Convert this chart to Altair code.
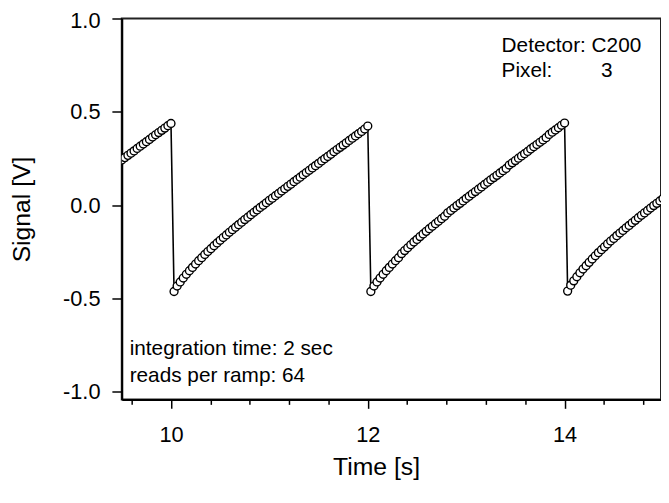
import altair as alt
import pandas as pd

# acquisition settings shown on the chart
reads_per_ramp = 64
integration_time = 2.0
dt = integration_time / reads_per_ramp

# start time of each plotted segment [s]
seg_starts = [9.5, 10.03125, 12.03125, 14.03125]

# signal values [V]
seg0 = [0.242, 0.255, 0.267, 0.279, 0.291, 0.304, 0.316, 0.328, 0.340,
        0.352, 0.365, 0.377, 0.389, 0.401, 0.413, 0.426, 0.438]
ramp1 = [-0.462, -0.433, -0.411, -0.390, -0.370, -0.351, -0.333, -0.315,
         -0.297, -0.281, -0.264, -0.248, -0.233, -0.217, -0.202, -0.188,
         -0.173, -0.159, -0.145, -0.131, -0.118, -0.104, -0.091, -0.077,
         -0.064, -0.051, -0.038, -0.025, -0.012, 0.000, 0.013, 0.026,
         0.038, 0.051, 0.063, 0.076, 0.088, 0.101, 0.113, 0.126,
         0.138, 0.150, 0.163, 0.175, 0.187, 0.200, 0.212, 0.224,
         0.237, 0.249, 0.261, 0.273, 0.286, 0.298, 0.310, 0.322,
         0.334, 0.347, 0.359, 0.371, 0.383, 0.395, 0.408, 0.424]
ramp2 = [-0.462, -0.433, -0.411, -0.390, -0.370, -0.351, -0.333, -0.315,
         -0.297, -0.281, -0.259, -0.243, -0.228, -0.212, -0.197, -0.183,
         -0.168, -0.154, -0.140, -0.126, -0.113, -0.099, -0.086, -0.072,
         -0.059, -0.041, -0.028, -0.015, -0.002, 0.010, 0.023, 0.036,
         0.048, 0.061, 0.073, 0.086, 0.098, 0.111, 0.123, 0.136,
         0.148, 0.160, 0.173, 0.185, 0.197, 0.215, 0.227, 0.239,
         0.252, 0.264, 0.276, 0.288, 0.301, 0.313, 0.325, 0.337,
         0.349, 0.362, 0.379, 0.391, 0.403, 0.415, 0.428, 0.440]
ramp3 = [-0.460, -0.428, -0.405, -0.383, -0.362, -0.342, -0.324, -0.306,
         -0.288, -0.271, -0.254, -0.238, -0.223, -0.207, -0.192, -0.178,
         -0.163, -0.149, -0.135, -0.121, -0.108, -0.094, -0.081, -0.067,
         -0.054, -0.041, -0.028, -0.015, -0.002, 0.010, 0.023, 0.036]
segments = [seg0, ramp1, ramp2, ramp3]

times, values = [], []
for start, vals in zip(seg_starts, segments):
    for i, v in enumerate(vals):
        times.append(start + i * dt)
        values.append(v)
df = pd.DataFrame({"t": times, "v": values})

# annotations
ann_text = ["Detector: C200", "Pixel:", "3", "integration time: 2 sec", "reads per ramp: 64"]
ann_t = [13.36, 13.36, 14.37, 9.58, 9.58]
ann_v = [0.852, 0.716, 0.716, -0.768, -0.913]
ann = pd.DataFrame({"text": ann_text, "t": ann_t, "v": ann_v})

x_tick_values = [9.6, 10, 10.4, 10.8, 11.2, 11.6, 12, 12.4, 12.8, 13.2, 13.6, 14, 14.4, 14.8]
y_tick_values = [-1.0, -0.5, 0.0, 0.5, 1.0]
major_test = "datum.value == 10 || datum.value == 12 || datum.value == 14"

FONT = "Liberation Sans"

x_enc = alt.X(
    "t:Q",
    scale=alt.Scale(domain=[9.5, 14.98], nice=False, zero=False),
    axis=alt.Axis(
        title="Time [s]",
        values=x_tick_values,
        labelExpr=f"({major_test}) ? format(datum.value, 'd') : ''",
        labelOverlap=False,
        tickSize={"condition": {"test": major_test, "value": 9}, "value": 5},
        labelPadding=17,
        titleX=257,
        titleY=68,
        titleBaseline="middle",
        grid=False,
    ),
)
y_enc = alt.Y(
    "v:Q",
    scale=alt.Scale(domain=[-1.04, 1.0], nice=False, zero=False),
    axis=alt.Axis(
        title="Signal [V]",
        values=y_tick_values,
        labelExpr="datum.value < 0 ? '-' + format(abs(datum.value), '.1f') : format(datum.value, '.1f')",
        labelOffset={"condition": {"test": "datum.value == 1", "value": 2}, "value": 0},
        tickSize=10,
        labelPadding=12,
        titleX=-101,
        titleBaseline="middle",
        grid=False,
    ),
)

line = alt.Chart(df).mark_line(color="black", strokeWidth=1.6, clip=True).encode(x=x_enc, y=y_enc)
pts = alt.Chart(df).mark_point(
    shape="circle", filled=False, fill="white", fillOpacity=1, stroke="black",
    strokeWidth=1.4, size=64, opacity=1, clip=True
).encode(x="t:Q", y="v:Q")
texts = alt.Chart(ann).mark_text(
    align="left", baseline="middle", font=FONT, fontSize=21, color="black"
).encode(x="t:Q", y="v:Q", text="text:N")

chart = alt.layer(line, pts, texts).properties(
    width=545, height=385,
    background="white",
    autosize=alt.AutoSizeParams(type="none"),
    padding={"left": 115, "top": 8, "right": 0, "bottom": 95},
).configure_view(
    stroke="#222", strokeWidth=2
).configure_axis(
    domainColor="black", domainWidth=2, tickColor="black", tickWidth=1.5,
    labelFont=FONT, labelFontSize=22, labelColor="black",
    titleFont=FONT, titleFontSize=25, titleFontWeight="normal", titleColor="black",
    grid=False,
)

chart.save("out.html", embed_options={"renderer": "svg", "actions": False})
